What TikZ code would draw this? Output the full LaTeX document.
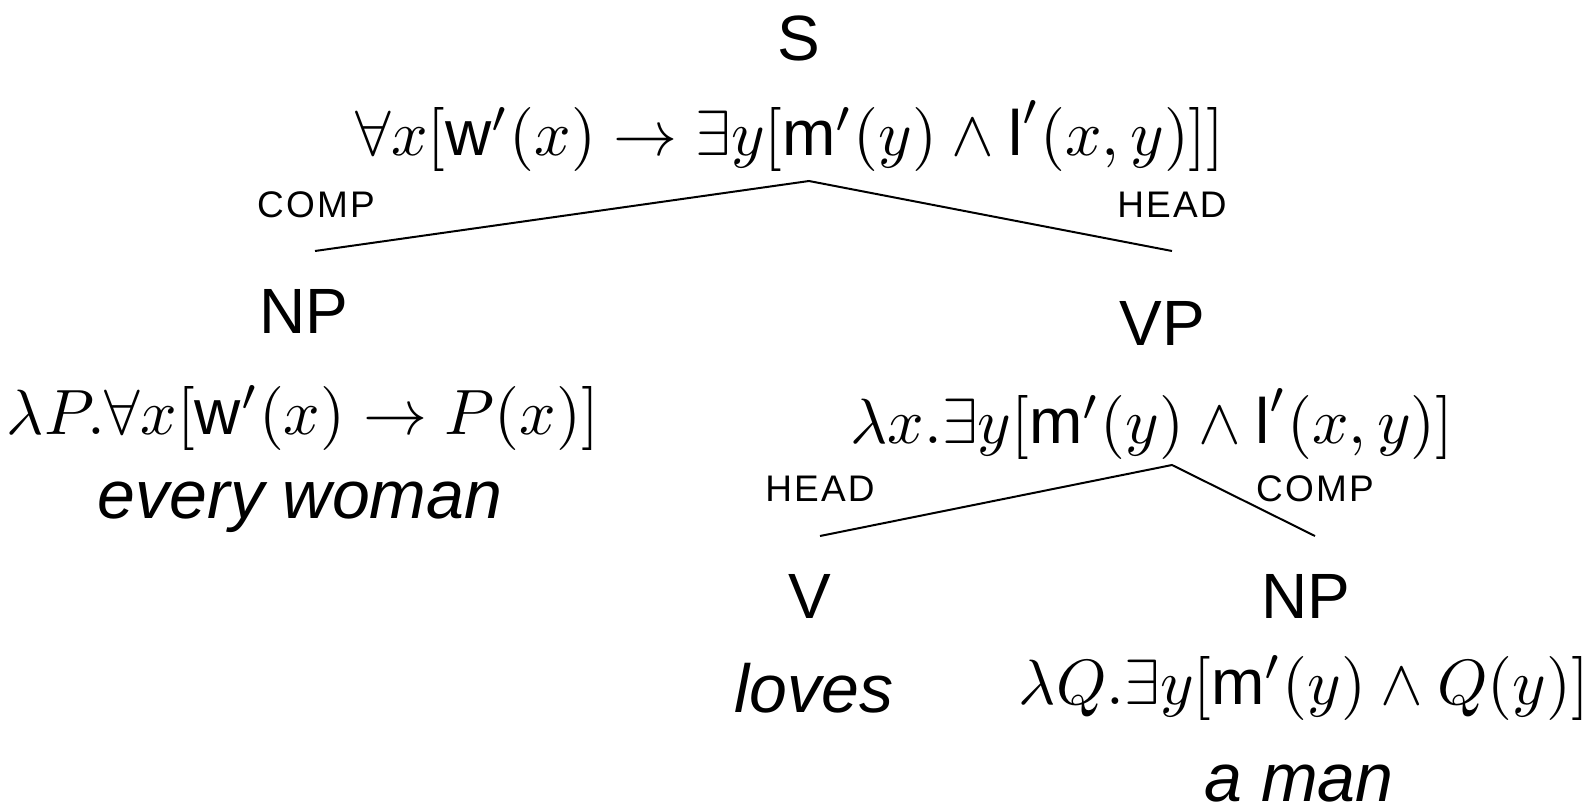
\documentclass[tikz,border=0pt]{standalone}
\usepackage{graphicx}
\usepackage{fontspec}
\setsansfont{Liberation Sans}
\newcommand{\semw}{\textsf{w}}
\newcommand{\semm}{\textsf{m}}
\newcommand{\seml}{\textsf{l}}
\newcommand{\bigmath}[1]{\scalebox{6.4}{$#1$}}
\tikzset{
  cat/.style={font=\sffamily\fontsize{64}{70}\selectfont, inner sep=0pt},
  sem/.style={inner sep=0pt},
  word/.style={font=\sffamily\itshape\fontsize{68}{74}\selectfont, inner sep=0pt},
  role/.style={font=\sffamily\fontsize{37}{40}\selectfont\addfontfeature{LetterSpace=6}, inner sep=0pt},
  branch/.style={line width=2pt}
}
\begin{document}
\begin{tikzpicture}[x=1pt,y=-1pt]
\useasboundingbox (0,0) rectangle (1591,806);
% S
\node[cat] (S) at (799,38) {S};
\node[sem] (Ssem) at (790,136) {\bigmath{\forall x[\semw'(x)\rightarrow\exists y[\semm'(y)\wedge\seml'(x,y)]]}};
\coordinate (Sa) at (809,181);
\coordinate (NPt) at (315,251);
\coordinate (VPt) at (1172,251);
\draw[branch] (NPt) -- (Sa) -- (VPt);
\node[role] (r1) at (316,205) {COMP};
\node[role] (r2) at (1172,205) {HEAD};
% NP left
\node[cat] (NP1) at (304,311) {NP};
\node[sem] (NP1sem) at (303,418) {\bigmath{\lambda P.\forall x[\semw'(x)\rightarrow P(x)]}};
\node[word] (NP1w) at (300,507) {every woman};
% VP
\node[cat] (VP) at (1162,323) {VP};
\node[sem] (VPsem) at (1152,424) {\bigmath{\lambda x.\exists y[\semm'(y)\wedge\seml'(x,y)]}};
\coordinate (VPa) at (1172,465);
\coordinate (Vt) at (820,536);
\coordinate (NP2t) at (1315,536);
\draw[branch] (Vt) -- (VPa) -- (NP2t);
\node[role] (r3) at (820,489) {HEAD};
\node[role] (r4) at (1315,489) {COMP};
% V
\node[cat] (V) at (810,596) {V};
\node[word] (Vw) at (814,688) {loves};
% NP right
\node[cat] (NP2) at (1306,596) {NP};
\node[sem] (NP2sem) at (1304,688) {\bigmath{\lambda Q.\exists y[\semm'(y)\wedge Q(y)]}};
\node[word] (NP2w) at (1299,784) {a man};
\end{tikzpicture}
\end{document}
